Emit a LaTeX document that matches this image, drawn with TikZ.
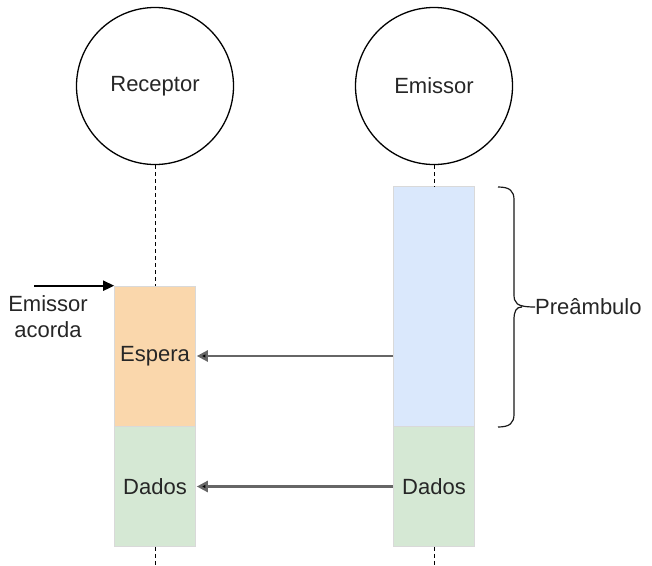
\documentclass[tikz,border=0pt]{standalone}
\usepackage{fontspec}
\setmainfont{Liberation Sans}
\usepackage{xcolor}
\usetikzlibrary{arrows.meta, positioning, calc}

\definecolor{waitfill}{HTML}{FAD7AC}
\definecolor{prefill}{HTML}{DAE8FC}
\definecolor{datafill}{HTML}{D5E8D4}

\begin{document}
\begin{tikzpicture}[
    x=1pt, y=-1pt,
    every node/.style={font=\fontsize{22}{26}\selectfont, text=black!85},
    actor/.style={draw, circle, line width=1.3pt, minimum size=157pt, inner sep=0pt},
    slot/.style={draw=black!15, line width=0.6pt, fill=#1, minimum width=81pt, inner sep=0pt},
    life/.style={dashed, dash pattern=on 4pt off 3pt, line width=1pt},
    msg/.style={-{Triangle[length=11pt, width=11pt, fill=black]}, line width=2.4pt, black!60},
    wake/.style={-{Triangle[length=11pt, width=10pt]}, line width=1.8pt, black}
]
\useasboundingbox (0,0) rectangle (652,565);

% Actors
\node[actor] (rec) at (155,86) {Receptor};
\node[actor] (emi) at (434,86) {Emissor};

% Receptor column
\node[slot=waitfill, minimum height=140pt] (wait) at (155,356) {Espera};
\node[slot=datafill, minimum height=120pt] (datR) at (155,486.5) {Dados};

% Emissor column
\node[slot=prefill, minimum height=240pt] (pre) at (434,306.5) {};
\node[slot=datafill, minimum height=120pt] (datE) at (434,486.5) {Dados};

% Lifelines
\coordinate (endR) at (155,565);
\coordinate (endE) at (434,565);
\draw[life] (rec.south) -- (wait.north);
\draw[life] (emi.south) -- (pre.north);
\draw[life] (datR.south) -- (endR);
\draw[life] (datE.south) -- (endE);

% Messages
\draw[msg] (wait.east -| pre.west) -- ([xshift=1pt]wait.east);
\draw[msg] (datE.west) -- ([xshift=1pt]datR.east);

% Wake-up
\coordinate (wk) at ([xshift=-80pt]wait.north west);
\draw[wake] (wk) -- (wait.north west);
\node[align=center, inner sep=0pt] (wklbl) at (48,317) {Emissor\\acorda};

% Preamble brace
\node[anchor=west, inner sep=0pt] (prelbl) at (535,307) {Preâmbulo};
\draw[line width=1.2pt, black!90]
    (498,187) .. controls (510,187) and (514,191) .. (514,200)
    -- (514,294) .. controls (514,303) and (516,307) .. (prelbl.west)
    (498,427) .. controls (510,427) and (514,423) .. (514,414)
    -- (514,320) .. controls (514,311) and (516,307) .. (522,307);
\end{tikzpicture}
\end{document}
